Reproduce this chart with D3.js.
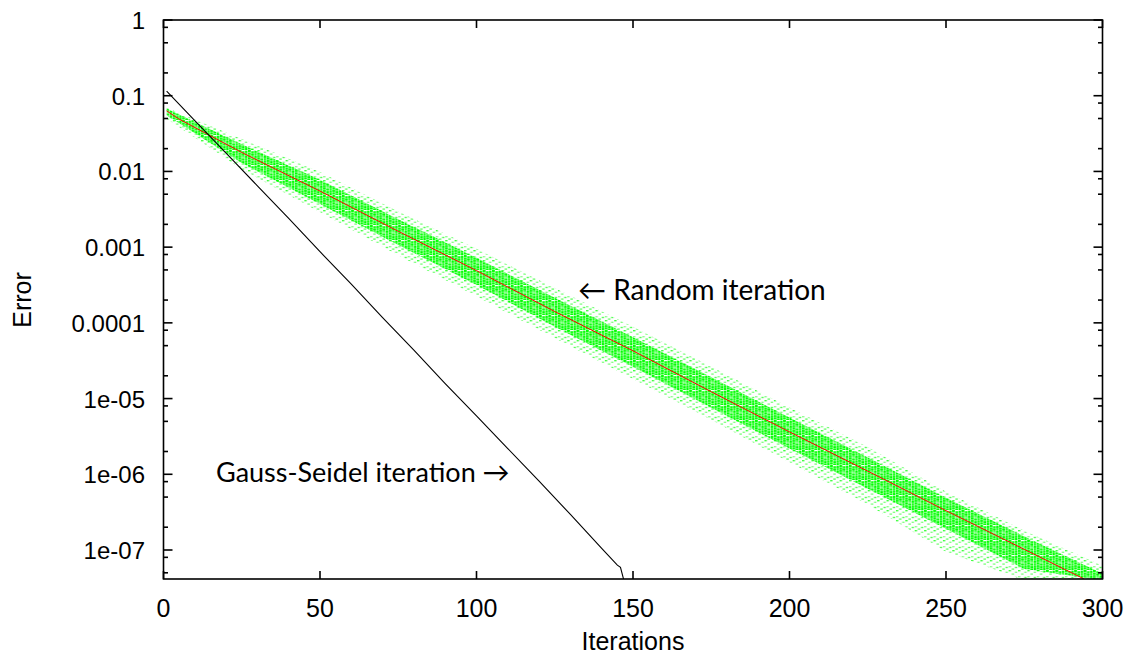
<!DOCTYPE html>
<html>
<head>
<meta charset="utf-8">
<script src="https://cdn.jsdelivr.net/npm/d3@7"></script>
<style>
  html, body { margin: 0; padding: 0; background: #fff; }
  svg { display: block; }
</style>
</head>
<body>
<div id="chart"></div>
<script>
// ---- data ----
const xTicks = [0, 50, 100, 150, 200, 250, 300];
const yTicks = [1, 0.1, 0.01, 0.001, 0.0001, 1e-5, 1e-6, 1e-7];
const yTickLabels = ['1', '0.1', '0.01', '0.001', '0.0001', '1e-05', '1e-06', '1e-07'];

// Gauss-Seidel iteration (black)
const gsIter  = [1, 10, 20, 30, 40, 50, 60, 70, 80, 90, 100, 110, 120, 130, 140, 145, 146, 147];
const gsError = [0.115, 0.0468, 0.0174, 0.00646, 0.0024, 8.7e-4, 3.24e-4, 1.17e-4, 4.37e-5,
                 1.58e-5, 5.9e-6, 2.19e-6, 8.1e-7, 2.95e-7, 1.05e-7, 6.3e-8, 5.9e-8, 4.1e-8];

// Random iteration, mean (red)
const rndIter = [1, 5, 25, 50, 75, 100, 125, 150, 175, 200, 225, 250, 275, 294];
const rndMean = [0.0631, 0.049, 0.0178, 0.0055, 0.00162, 4.9e-4, 1.41e-4, 4.27e-5,
                 1.23e-5, 3.63e-6, 1.1e-6, 3.31e-7, 1.02e-7, 4.17e-8];

// Random iteration, spread of the runs (green)
const bandIter   = [1, 25, 50, 75, 100, 125, 150, 175, 200, 225, 250, 275, 300];
const outerUpper = [0.0692, 0.0269, 0.0098, 0.00295, 9.5e-4, 2.88e-4, 8.9e-5, 2.63e-5,
                    7.6e-6, 2.29e-6, 5.9e-7, 1.8e-7, 6.2e-8];
const outerLower = [0.0498, 0.0107, 0.00288, 7.8e-4, 2.24e-4, 6.3e-5, 1.82e-5, 5.25e-6,
                    1.44e-6, 3.98e-7, 9.5e-8, 3.98e-8, 3.98e-8];
const coreUpper  = [0.0676, 0.0229, 0.00776, 0.00234, 7.24e-4, 2.14e-4, 6.46e-5, 1.91e-5,
                    5.62e-6, 1.66e-6, 4.9e-7, 1.51e-7, 4.9e-8];
const coreLower  = [0.055, 0.0129, 0.00372, 0.00107, 3.16e-4, 8.91e-5, 2.63e-5, 7.59e-6,
                    2.19e-6, 6.46e-7, 1.91e-7, 5.62e-8, 3.98e-8];

// ---- layout ----
const W = 1130, H = 659;
const plotL = 163.5, plotR = 1102.5, plotT = 20, plotB = 579;
const tickFont = 'Liberation Sans, Arial, Helvetica, sans-serif';
const noteFont = 'Lato, "Open Sans", sans-serif';

const svg = d3.select('#chart').append('svg')
    .attr('width', W).attr('height', H);

const x = d3.scaleLinear().domain([0, 300]).range([plotL, plotR]);
const y = d3.scaleLog().domain([4.14e-8, 1]).range([plotB, plotT]);

const defs = svg.append('defs');
defs.append('clipPath').attr('id', 'plotClip')
  .append('rect')
    .attr('x', plotL).attr('y', plotT)
    .attr('width', plotR - plotL).attr('height', plotB - plotT);

// speckled texture: columns of short dashes, one column per iteration
const step = x(1) - x(0);
const core = defs.append('pattern')
    .attr('id', 'corePat').attr('patternUnits', 'userSpaceOnUse')
    .attr('x', plotL).attr('y', 0)
    .attr('width', step * 3).attr('height', 7.5);
[[0, 0], [0, 2.5], [0, 5], [1, 1.2], [1, 3.7], [1, 6.2], [2, 0.6], [2, 3.1], [2, 5.6]]
  .forEach(([c, dy]) => core.append('rect')
    .attr('x', c * step).attr('y', dy)
    .attr('width', 2.6).attr('height', 2).attr('fill', '#00ff00'));

const outer = defs.append('pattern')
    .attr('id', 'outerPat').attr('patternUnits', 'userSpaceOnUse')
    .attr('x', plotL).attr('y', 0)
    .attr('width', step * 3).attr('height', 10);
[[0, 0, 0.85], [1, 3.4, 0.6], [2, 6.8, 0.75], [0, 6, 0.5], [2, 1.6, 0.55], [1, 8.4, 0.7]]
  .forEach(([c, dy, o]) => outer.append('rect')
    .attr('x', c * step).attr('y', dy)
    .attr('width', 2.4).attr('height', 1.4).attr('fill', '#22ff22').attr('opacity', o));

const plot = svg.append('g').attr('clip-path', 'url(#plotClip)');

const bandArea = (lo, hi) => d3.area()
    .x((d, i) => x(bandIter[i]))
    .y0((d, i) => y(lo[i]))
    .y1((d, i) => y(hi[i]));

plot.append('path')
    .datum(bandIter)
    .attr('d', bandArea(outerLower, outerUpper))
    .attr('fill', 'url(#outerPat)');

plot.append('path')
    .datum(bandIter)
    .attr('d', bandArea(coreLower, coreUpper))
    .attr('fill', 'url(#corePat)');

// mean of random runs
plot.append('path')
    .datum(rndIter)
    .attr('d', d3.line().x((d, i) => x(rndIter[i])).y((d, i) => y(rndMean[i])))
    .attr('fill', 'none')
    .attr('stroke', '#ff0000')
    .attr('stroke-width', 1);

// Gauss-Seidel
plot.append('path')
    .datum(gsIter)
    .attr('d', d3.line().x((d, i) => x(gsIter[i])).y((d, i) => y(gsError[i])))
    .attr('fill', 'none')
    .attr('stroke', '#000')
    .attr('stroke-width', 1.1);

// ---- axes (gnuplot style: ticks inside, mirrored) ----
const axes = svg.append('g').attr('stroke', '#000').attr('stroke-width', 1.6);

// minor log ticks at 2, 5, 8 per decade
const minorTicks = [];
for (let e = -8; e <= 0; e++) {
  [2, 5, 8].forEach(m => {
    const v = m * Math.pow(10, e);
    if (v > 4.14e-8 && v < 1) minorTicks.push(v);
  });
}

yTicks.forEach(v => {
  axes.append('line').attr('x1', plotL).attr('x2', plotL + 9).attr('y1', y(v)).attr('y2', y(v));
  axes.append('line').attr('x1', plotR).attr('x2', plotR - 9).attr('y1', y(v)).attr('y2', y(v));
});
minorTicks.forEach(v => {
  axes.append('line').attr('x1', plotL).attr('x2', plotL + 4.5).attr('y1', y(v)).attr('y2', y(v));
  axes.append('line').attr('x1', plotR).attr('x2', plotR - 4.5).attr('y1', y(v)).attr('y2', y(v));
});
xTicks.forEach(v => {
  axes.append('line').attr('x1', x(v)).attr('x2', x(v)).attr('y1', plotB).attr('y2', plotB - 8);
  axes.append('line').attr('x1', x(v)).attr('x2', x(v)).attr('y1', plotT).attr('y2', plotT + 8);
});

axes.append('rect')
    .attr('x', plotL).attr('y', plotT)
    .attr('width', plotR - plotL).attr('height', plotB - plotT)
    .attr('fill', 'none');

// tick labels
svg.append('g').selectAll('text')
  .data(yTicks)
  .join('text')
    .attr('x', 145)
    .attr('y', d => y(d) + 9)
    .attr('text-anchor', 'end')
    .attr('font-family', tickFont)
    .attr('font-size', 24)
    .text((d, i) => yTickLabels[i]);

svg.append('g').selectAll('text')
  .data(xTicks)
  .join('text')
    .attr('x', d => x(d))
    .attr('y', 617)
    .attr('text-anchor', 'middle')
    .attr('font-family', tickFont)
    .attr('font-size', 25)
    .text(d => d);

// axis titles
svg.append('text')
    .attr('x', (plotL + plotR) / 2).attr('y', 650)
    .attr('text-anchor', 'middle')
    .attr('font-family', tickFont).attr('font-size', 25)
    .text('Iterations');

svg.append('text')
    .attr('transform', 'translate(31,300) rotate(-90)')
    .attr('text-anchor', 'middle')
    .attr('font-family', tickFont).attr('font-size', 25)
    .text('Error');

// annotations
svg.append('text')
    .attr('x', 578).attr('y', 300)
    .attr('font-family', noteFont).attr('font-size', 28)
    .text('← Random iteration');

svg.append('text')
    .attr('x', 216).attr('y', 482)
    .attr('font-family', noteFont).attr('font-size', 27)
    .text('Gauss-Seidel iteration →');
</script>
</body>
</html>
